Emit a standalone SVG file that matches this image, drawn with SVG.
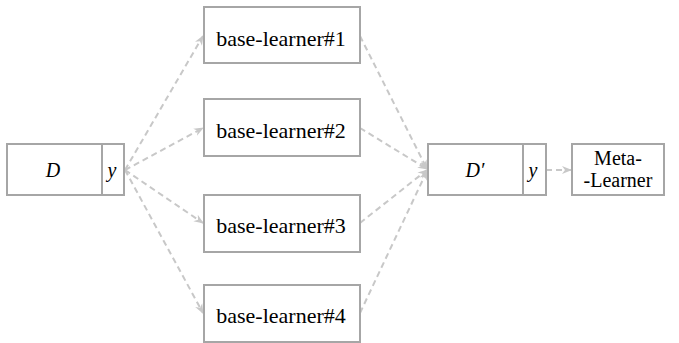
<svg xmlns="http://www.w3.org/2000/svg" width="679" height="343" viewBox="0 0 679 343">
<style>
.box{fill:#fff;stroke:#a6a6a6;stroke-width:2}
text{font-family:'Liberation Serif','Times New Roman',serif;fill:#000;text-anchor:middle}
.t{font-size:22px}
.m{font-size:20px}
.i{font-style:italic;font-size:20px}
.c{fill:none;stroke:#c8c8c8;stroke-width:2;stroke-dasharray:6 4}
</style>
<defs>
<marker id="ah" viewBox="0 0 10 10" refX="9" refY="5" markerWidth="5" markerHeight="5" orient="auto" markerUnits="strokeWidth">
<path d="M0,1 L10,5 L0,9 L3,5 Z" fill="#c8c8c8"/>
</marker>
</defs>
<rect width="679" height="343" fill="#fff"/>
<g id="connectors">
<line class="c" x1="125" y1="170" x2="203" y2="36" marker-end="url(#ah)"/>
<line class="c" x1="125" y1="170" x2="203" y2="128" marker-end="url(#ah)"/>
<line class="c" x1="125" y1="170" x2="203" y2="223" marker-end="url(#ah)"/>
<line class="c" x1="125" y1="170" x2="203" y2="313" marker-end="url(#ah)"/>
<line class="c" x1="360" y1="36" x2="427" y2="169" marker-end="url(#ah)"/>
<line class="c" x1="360" y1="128" x2="427" y2="169" marker-end="url(#ah)"/>
<line class="c" x1="360" y1="223" x2="427" y2="170" marker-end="url(#ah)"/>
<line class="c" x1="360" y1="313" x2="427" y2="171" marker-end="url(#ah)"/>
<line class="c" x1="546" y1="170" x2="571" y2="170" marker-end="url(#ah)"/>
</g>
<g id="D">
<rect class="box" x="7" y="144" width="117" height="51"/>
<line x1="102" y1="144" x2="102" y2="195" stroke="#a6a6a6" stroke-width="2"/>
<text class="i" x="53" y="177">D</text>
<text class="i" x="112" y="177">y</text>
</g>
<g id="bl1">
<rect class="box" x="204" y="7" width="156" height="56"/>
<text class="t" x="281" y="46">base-learner#1</text>
</g>
<g id="bl2">
<rect class="box" x="204" y="99" width="156" height="57"/>
<text class="t" x="281" y="138">base-learner#2</text>
</g>
<g id="bl3">
<rect class="box" x="204" y="195" width="156" height="57"/>
<text class="t" x="281" y="233">base-learner#3</text>
</g>
<g id="bl4">
<rect class="box" x="204" y="285" width="156" height="57"/>
<text class="t" x="281" y="323">base-learner#4</text>
</g>
<g id="Dp">
<rect class="box" x="428" y="144" width="118" height="51"/>
<line x1="523" y1="144" x2="523" y2="195" stroke="#a6a6a6" stroke-width="2"/>
<text class="i" x="475" y="177">D′</text>
<text class="i" x="533" y="177">y</text>
</g>
<g id="meta">
<rect class="box" x="572" y="144" width="92" height="51"/>
<text class="m" x="618" y="165">Meta-</text>
<text class="m" x="618" y="187">-Learner</text>
</g>
</svg>
